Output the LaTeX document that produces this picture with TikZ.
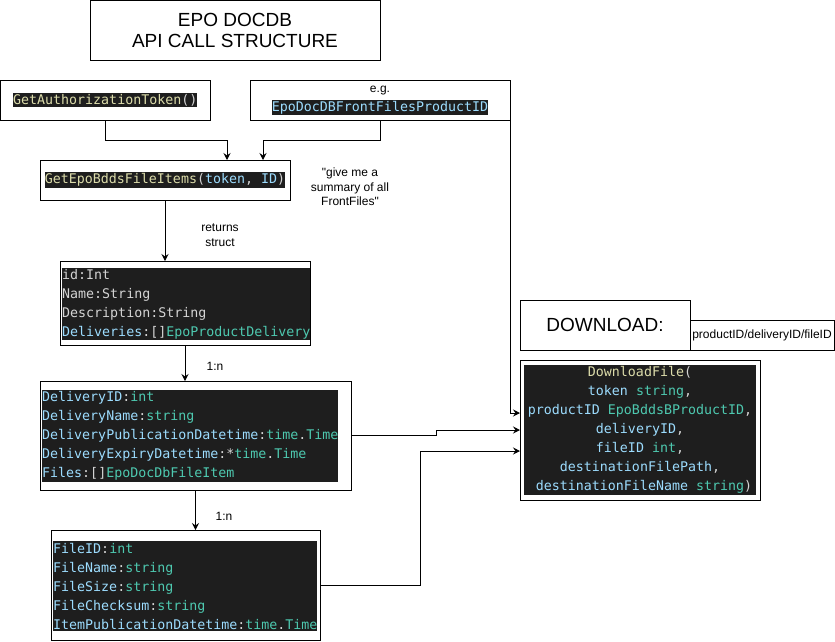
\documentclass[tikz,border=0pt]{standalone}
\usepackage{fontspec}
\setmainfont{Liberation Sans}[Ligatures=TeXOff]
\newfontfamily\codefont{DejaVu Sans Mono}
\usetikzlibrary{arrows.meta, positioning}

\definecolor{codebg}{HTML}{1E1E1E}
\definecolor{codefn}{HTML}{DCDCAA}
\definecolor{codevar}{HTML}{9CDCFE}
\definecolor{codetype}{HTML}{4EC9B0}
\definecolor{codetxt}{HTML}{D4D4D4}

\newcommand{\cfn}[1]{\textcolor{codefn}{#1}}
\newcommand{\cvar}[1]{\textcolor{codevar}{#1}}
\newcommand{\ctype}[1]{\textcolor{codetype}{#1}}

\tikzset{
  box/.style={draw, line width=1pt, inner sep=0pt, outer sep=0pt},
  code/.style={fill=codebg, text=codetxt, inner xsep=0pt, inner ysep=1.5pt, align=left,
    font=\codefont\fontsize{13.3}{19}\selectfont},
  lbl/.style={font=\fontsize{12}{14.5}\selectfont, align=center, inner sep=0pt},
  big/.style={font=\fontsize{19}{21.5}\selectfont, align=center},
  arr/.style={-{Stealth[length=7pt,width=7pt,inset=2.5pt]}, line width=1pt},
}

\begin{document}
\begin{tikzpicture}[x=1pt, y=-1pt]
		\useasboundingbox (0,0) rectangle (835,641);

		% Title
		\node[box, big, minimum width=290pt, minimum height=59.5pt] (title) at (235,30.25) {EPO DOCDB\\API CALL STRUCTURE};

		% Inputs
		\node[box, minimum width=209.5pt, minimum height=40pt] (auth) at (105.25,100) {};
		\node[code] (authcode) at (auth.center) {\cfn{GetAuthorizationToken}()};
		\node[box, minimum width=260pt, minimum height=40pt] (prod) at (380,100) {};
		\node[lbl] (eg) at (380,91) {e.g.};
		\node[code] (prodcode) at (380,107.5) {\cvar{EpoDocDBFrontFilesProductID}};

		% Summary call
		\node[box, minimum width=250pt, minimum height=40pt] (items) at (165,180) {};
		\node[code] (itemscode) at (items.center) {\cfn{GetEpoBddsFileItems}(\cvar{token}, \cvar{ID})};
		\node[lbl] (summary) at (350,187) {"give me a\\summary of all\\FrontFiles"};
		\draw[arr] (auth.south) -- ++(0,20) -| ([xshift=62pt]items.north);
		\draw[arr] (prod.south) -- ++(0,20) -| ([xshift=98pt]items.north);

		% Product struct
		\node[box, minimum width=250pt, minimum height=84pt] (struct) at (185,303) {};
		\node[code, anchor=west] (structcode) at ([xshift=2pt,yshift=-1pt]struct.west)
			{id:Int\\Name:String\\Description:String\\\cvar{Deliveries}:[]\ctype{EpoProductDelivery}};
		\draw[arr] (items.south) -- (items.south |- struct.north);
		\node[lbl] (returns) at (220,235) {returns\\struct};

		% Delivery struct
		\node[box, minimum width=311pt, minimum height=109pt] (delivery) at (195.5,435.5) {};
		\node[code, anchor=west] (deliverycode) at (42,436)
			{\cvar{DeliveryID}:\ctype{int}\\
			 \cvar{DeliveryName}:\ctype{string}\\
			 \cvar{DeliveryPublicationDatetime}:\ctype{time}.\ctype{Time}\\
			 \cvar{DeliveryExpiryDatetime}:*\ctype{time}.\ctype{Time}\\
			 \cvar{Files}:[]\ctype{EpoDocDbFileItem}};
		\draw[arr] (struct.south) -- (struct.south |- delivery.north);
		\node[lbl] (onen) at (215,366) {1:n};

		% File struct
		\node[box, minimum width=269pt, minimum height=110pt] (file) at (185.5,585) {};
		\node[code, anchor=west] (filecode) at (53,586)
			{\cvar{FileID}:\ctype{int}\\
			 \cvar{FileName}:\ctype{string}\\
			 \cvar{FileSize}:\ctype{string}\\
			 \cvar{FileChecksum}:\ctype{string}\\
			 \cvar{ItemPublicationDatetime}:\ctype{time}.\ctype{Time}};
		\draw[arr] (delivery.south) -- (delivery.south |- file.north);
		\node[lbl] (onenfile) at (224,516) {1:n};

		% Download
		\node[box, big, minimum width=170pt, minimum height=50pt] (dltitle) at (605,325) {DOWNLOAD:};
		\node[box, lbl, anchor=south west, minimum width=144pt, minimum height=30pt] (dlpath) at (dltitle.south east) {productID/deliveryID/fileID};
		\node[box, minimum width=240pt, minimum height=140pt] (dl) at (640,430) {};
		\node[code, align=center, inner xsep=4pt] (dlcode) at (dl.center)
			{\cfn{DownloadFile}(\\
			 \cvar{token} \ctype{string},\\
			 \cvar{productID} \ctype{EpoBddsBProductID},\\
			 \cvar{deliveryID},\\
			 \cvar{fileID} \ctype{int},\\
			 \cvar{destinationFilePath},\\
			 \mbox{ }\cvar{destinationFileName} \ctype{string})};
		\draw[arr] (prod.south east) |- ([yshift=17pt]dl.west);
		\draw[arr] (delivery.east) -- ++(85,0) |- (dl.west);
		\draw[arr] (file.east) -- ++(100,0) |- ([yshift=-21pt]dl.west);
	\end{tikzpicture}
\end{document}
